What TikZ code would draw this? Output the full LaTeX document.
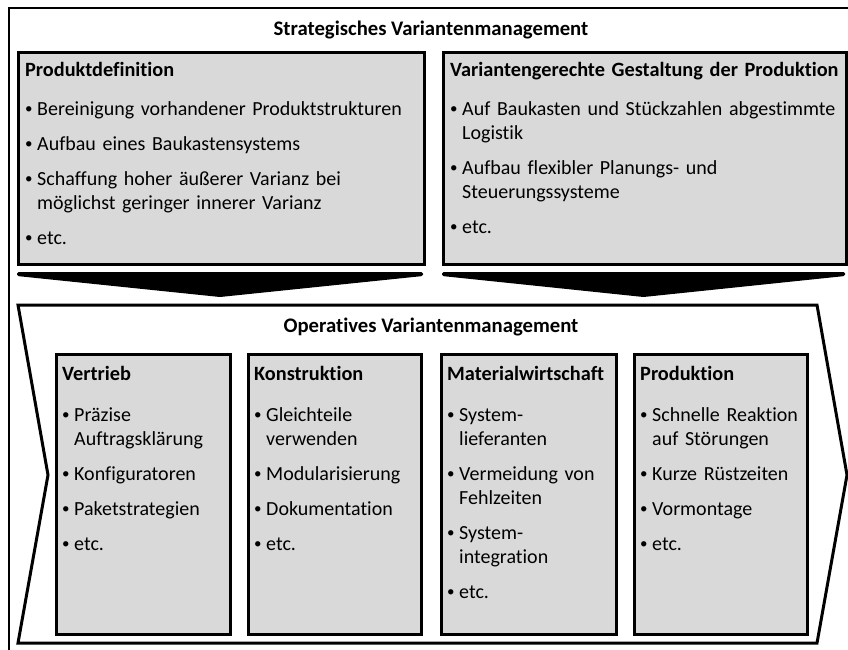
\documentclass[tikz,border=0pt]{standalone}
\usepackage{fontspec}
\setmainfont{Carlito}[Ligatures=NoCommon,UprightFeatures={WordSpace=0.8}]
\definecolor{panelgray}{RGB}{217,217,217}
% panel heading
\newcommand\phead[1]{{\fontsize{20.3}{24}\selectfont\bfseries #1}}
% small raised bullet followed by a fixed gap
\newcommand\bulletmark{\makebox[12pt][l]{\raisebox{1.2pt}{\fontsize{15}{15}\selectfont\textbullet}}}
% bullet paragraph with hanging indent; optional arg = space above
\newcommand\bitem[2][11pt]{\par\vspace{#1}\hangindent=12pt\hangafter=1\noindent\bulletmark#2}
\begin{document}
\begin{tikzpicture}[x=1pt,y=-1pt,
  outerframe/.style={draw=black,line width=2.6pt},
  panel/.style={draw=black,line width=3pt,fill=panelgray,inner sep=0pt,anchor=north west},
  flowarrow/.style={fill=black,rounded corners=1.5pt},
  chevron/.style={draw=black,line width=3pt,line join=miter,fill=white},
  paneltext/.style={anchor=base west,inner sep=0pt,font=\fontsize{20}{24}\selectfont},
  title/.style={anchor=base,inner sep=0pt,font=\fontsize{20.7}{24}\selectfont\bfseries}]
\useasboundingbox (0,0) rectangle (848,649);
\clip (0,0) rectangle (848,649);

% outer frame (runs past the right and bottom page edges)
\draw[outerframe] (9,670) -- (9,8) -- (870,8);

\node[title] (strat) at (431,35) {Strategisches Variantenmanagement};

% strategic panels
\node[panel,minimum width=406pt,minimum height=212pt] (pdef) at (17,51) {};
\node[panel,minimum width=403pt,minimum height=212pt] (pgest) at (442,51) {};

\node[paneltext,text width=392pt] (pdeftxt) at ([xshift=8pt,yshift=-25pt]pdef.north west)
 {\raggedright\phead{Produktdefinition}%
  \bitem[15pt]{Bereinigung vorhandener Produktstrukturen}%
  \bitem{Aufbau eines Baukastensystems}%
  \bitem{Schaffung hoher äußerer Varianz bei\newline möglichst geringer innerer Varianz}%
  \bitem{etc.}};
\node[paneltext,text width=392pt] (pgesttxt) at ([xshift=8pt,yshift=-25pt]pgest.north west)
 {\raggedright\phead{Variantengerechte Gestaltung der Produktion}%
  \bitem[15pt]{Auf Baukasten und Stückzahlen abgestimmte\newline Logistik}%
  \bitem{Aufbau flexibler Planungs- und\newline Steuerungssysteme}%
  \bitem{etc.}};

% downward block arrows
\fill[flowarrow] (17,272) -- (423,272) -- (423,276) -- (220,297) -- (17,276) -- cycle;
\fill[flowarrow] (442,272) -- (845,272) -- (845,276) -- (643.5,297) -- (442,276) -- cycle;

% operative chevron
\draw[chevron] (18,305) -- (817,305) -- (847,475) -- (817,643) -- (18,643) -- (48,475) -- cycle;
\node[title] (oper) at (431,332) {Operatives Variantenmanagement};

% operative panels
\node[panel,minimum width=174pt,minimum height=280pt] (vert) at (55,353) {};
\node[panel,minimum width=173pt,minimum height=280pt] (kons) at (247,353) {};
\node[panel,minimum width=175pt,minimum height=280pt] (mat) at (440,353) {};
\node[panel,minimum width=173pt,minimum height=280pt] (prodn) at (633,353) {};

\node[paneltext,text width=170pt] (verttxt) at ([xshift=7pt,yshift=-27pt]vert.north west)
 {\raggedright\phead{Vertrieb}%
  \bitem[17pt]{Präzise\newline Auftragsklärung}%
  \bitem{Konfiguratoren}%
  \bitem{Paketstrategien}%
  \bitem{etc.}};
\node[paneltext,text width=170pt] (konstxt) at ([xshift=7pt,yshift=-27pt]kons.north west)
 {\raggedright\phead{Konstruktion}%
  \bitem[17pt]{Gleichteile\newline verwenden}%
  \bitem{Modularisierung}%
  \bitem{Dokumentation}%
  \bitem{etc.}};
\node[paneltext,text width=170pt] (mattxt) at ([xshift=7pt,yshift=-27pt]mat.north west)
 {\raggedright\phead{Materialwirtschaft}%
  \bitem[17pt]{System-\newline lieferanten}%
  \bitem{Vermeidung von\newline Fehlzeiten}%
  \bitem{System-\newline integration}%
  \bitem{etc.}};
\node[paneltext,text width=170pt] (prodntxt) at ([xshift=7pt,yshift=-27pt]prodn.north west)
 {\raggedright\phead{Produktion}%
  \bitem[17pt]{Schnelle Reaktion\newline auf Störungen}%
  \bitem{Kurze Rüstzeiten}%
  \bitem{Vormontage}%
  \bitem{etc.}};
\end{tikzpicture}
\end{document}
